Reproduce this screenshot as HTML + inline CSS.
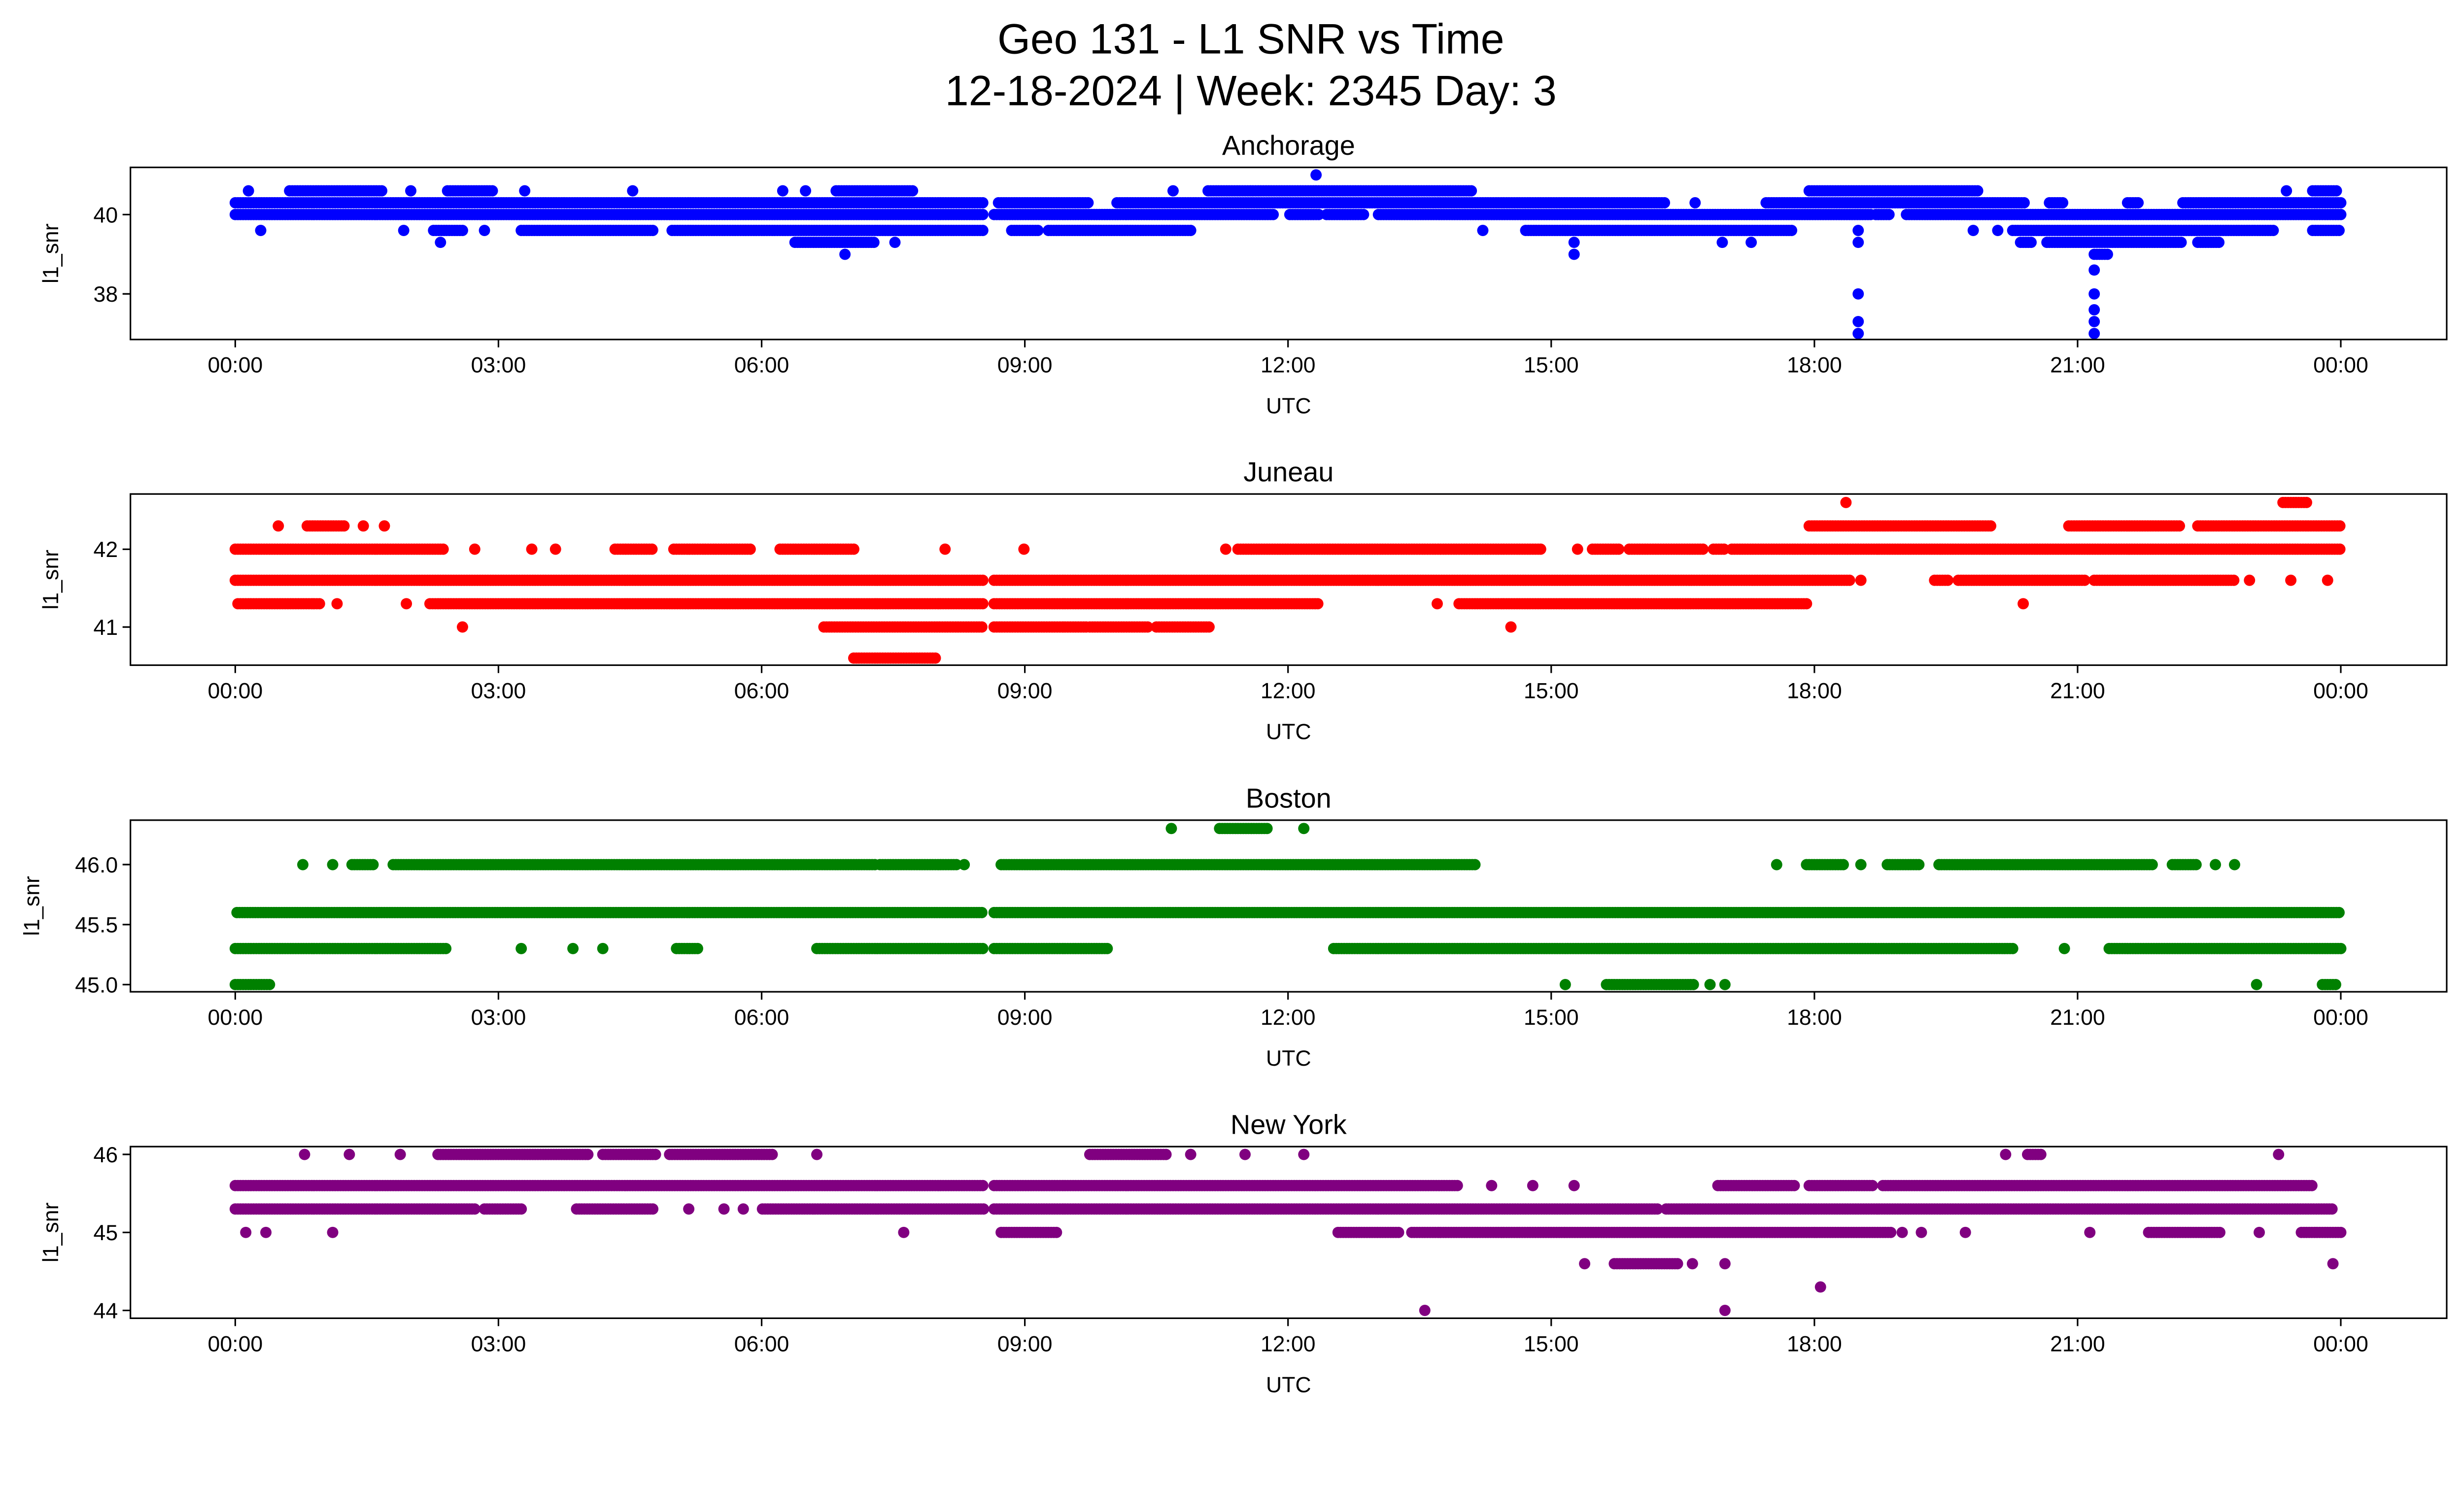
<!DOCTYPE html>
<html><head><meta charset="utf-8"><style>
html,body{margin:0;padding:0;background:#fff;overflow:hidden;width:100%;height:100%;}
svg{display:block;width:100vw;height:57.455vw;font-family:"Liberation Sans","DejaVu Sans",sans-serif;}
</style></head><body>
<svg id="chart" viewBox="0 0 1568 900.9" preserveAspectRatio="xMidYMin meet" xmlns="http://www.w3.org/2000/svg">
<rect width="1568" height="901" fill="#fff"/>
<text x="796" y="34" font-size="27" text-anchor="middle">Geo 131 - L1 SNR vs Time</text>
<text x="796" y="67" font-size="27" text-anchor="middle">12-18-2024 | Week: 2345 Day: 3</text>
<g id="plots"></g>
</svg>
<script>
// segments: [startHour, endHour, snr]
const anchorageSegs = [
[0,8.53,40.3],[8.70,9.74,40.3],[10.05,16.31,40.3],[16.64,16.64,40.3],[17.45,20.40,40.3],[20.68,20.85,40.3],[21.57,21.69,40.3],[22.2,24,40.3],
[0,8.53,40.0],[8.65,11.85,40.0],[12.02,12.35,40.0],[12.44,12.86,40.0],[13.03,18.66,40.0],[18.70,18.87,40.0],[19.05,24,40.0],
[0.15,0.15,40.6],[0.62,1.67,40.6],[2.0,2.0,40.6],[2.42,2.93,40.6],[3.30,3.30,40.6],[4.53,4.53,40.6],[6.24,6.24,40.6],[6.50,6.50,40.6],[6.85,7.72,40.6],[10.69,10.69,40.6],[11.09,14.09,40.6],[17.94,19.88,40.6],[23.38,23.38,40.6],[23.68,23.96,40.6],
[12.32,12.32,41.0],
[0.29,0.29,39.6],[1.92,1.92,39.6],[2.26,2.59,39.6],[2.84,2.84,39.6],[3.26,4.78,39.6],[4.98,8.53,39.6],[8.85,9.16,39.6],[9.27,10.89,39.6],[14.22,14.22,39.6],[14.71,17.74,39.6],[18.5,18.5,39.6],[19.81,19.81,39.6],[20.09,20.09,39.6],[20.26,23.24,39.6],[23.68,24,39.6],
[2.34,2.34,39.3],[6.38,7.30,39.3],[7.52,7.52,39.3],[15.26,15.26,39.3],[16.95,16.95,39.3],[17.28,17.28,39.3],[18.5,18.5,39.3],[20.35,20.48,39.3],[20.65,22.2,39.3],[22.37,22.62,39.3],
[6.95,6.95,39.0],[15.26,15.26,39.0],[21.19,21.36,39.0],
[21.19,21.19,38.6],[18.5,18.5,38.0],[21.19,21.19,38.0],[21.19,21.19,37.6],
[18.5,18.5,37.3],[21.19,21.19,37.3],[18.5,18.5,37.0],[21.19,21.19,37.0]
];
const juneauSegs = [
[18.36,18.36,42.6],[23.34,23.63,42.6],
[0.49,0.49,42.3],[0.82,1.25,42.3],[1.46,1.46,42.3],[1.70,1.70,42.3],[17.94,20.01,42.3],[20.90,22.16,42.3],[22.37,24,42.3],
[0,2.37,42.0],[2.73,2.73,42.0],[3.38,3.38,42.0],[3.65,3.65,42.0],[4.33,4.75,42.0],[5.0,5.87,42.0],[6.21,7.05,42.0],[8.09,8.09,42.0],[8.99,8.99,42.0],[11.29,11.29,42.0],[11.43,14.88,42.0],[15.30,15.30,42.0],[15.47,15.77,42.0],[15.89,16.73,42.0],[16.85,16.98,42.0],[17.06,24,42.0],
[0,8.53,41.6],[8.65,18.41,41.6],[18.53,18.53,41.6],[19.37,19.54,41.6],[19.64,21.10,41.6],[21.19,22.79,41.6],[22.96,22.96,41.6],[23.43,23.43,41.6],[23.85,23.85,41.6],
[0.03,0.96,41.3],[1.16,1.16,41.3],[1.95,1.95,41.3],[2.22,8.53,41.3],[8.65,12.35,41.3],[13.70,13.70,41.3],[13.95,17.91,41.3],[20.38,20.38,41.3],
[2.59,2.59,41.0],[6.71,8.53,41.0],[8.65,9.71,41.0],[9.74,10.42,41.0],[10.5,11.12,41.0],[14.54,14.54,41.0],
[7.05,7.98,40.6]
];
const bostonSegs = [
[10.67,10.67,46.3],[11.22,11.76,46.3],[12.18,12.18,46.3],
[0.77,0.77,46.0],[1.11,1.11,46.0],[1.33,1.58,46.0],[1.80,7.30,46.0],[7.35,8.23,46.0],[8.31,8.31,46.0],[8.73,14.15,46.0],[17.57,17.57,46.0],[17.91,18.33,46.0],[18.53,18.53,46.0],[18.83,19.20,46.0],[19.42,21.86,46.0],[22.08,22.37,46.0],[22.57,22.57,46.0],[22.79,22.79,46.0],
[0.02,8.53,45.6],[8.65,24,45.6],
[0,2.42,45.3],[3.26,3.26,45.3],[3.85,3.85,45.3],[4.19,4.19,45.3],[5.03,5.28,45.3],[6.63,8.53,45.3],[8.65,9.95,45.3],[12.52,20.26,45.3],[20.85,20.85,45.3],[21.36,24,45.3],
[0,0.40,45.0],[15.16,15.16,45.0],[15.63,16.64,45.0],[16.81,16.81,45.0],[16.98,16.98,45.0],[23.04,23.04,45.0],[23.79,23.96,45.0]
];
const newYorkSegs = [
[0.79,0.79,46.0],[1.30,1.30,46.0],[1.88,1.88,46.0],[2.31,4.02,46.0],[4.19,4.81,46.0],[4.95,6.13,46.0],[6.63,6.63,46.0],[9.74,10.62,46.0],[10.89,10.89,46.0],[11.51,11.51,46.0],[12.18,12.18,46.0],[20.18,20.18,46.0],[20.43,20.60,46.0],[23.29,23.29,46.0],
[0,8.53,45.6],[8.65,13.95,45.6],[14.32,14.32,45.6],[14.79,14.79,45.6],[15.26,15.26,45.6],[16.90,17.79,45.6],[17.94,18.66,45.6],[18.78,23.68,45.6],
[0,2.73,45.3],[2.84,3.26,45.3],[3.89,4.78,45.3],[5.17,5.17,45.3],[5.57,5.57,45.3],[5.79,5.79,45.3],[6.01,8.53,45.3],[8.65,16.22,45.3],[16.31,23.91,45.3],
[0.12,0.12,45.0],[0.35,0.35,45.0],[1.11,1.11,45.0],[7.62,7.62,45.0],[8.73,9.37,45.0],[12.57,13.28,45.0],[13.41,18.87,45.0],[19.0,19.0,45.0],[19.22,19.22,45.0],[19.72,19.72,45.0],[21.14,21.14,45.0],[21.81,22.62,45.0],[23.07,23.07,45.0],[23.55,24,45.0],
[15.38,15.38,44.6],[15.72,16.44,44.6],[16.61,16.61,44.6],[16.98,16.98,44.6],[23.91,23.91,44.6],
[18.07,18.07,44.3],[13.56,13.56,44.0],[16.98,16.98,44.0]
];
const xTickHours = [0,3,6,9,12,15,18,21,24];
const xTickLabels = ["00:00","03:00","06:00","09:00","12:00","15:00","18:00","21:00","00:00"];
const anchorageYTicks = [38,40];
const juneauYTicks = [41,42];
const bostonYTicks = [45.0,45.5,46.0];
const newYorkYTicks = [44,45,46];

const NS="http://www.w3.org/2000/svg";
const L=83,R=1557,X0=149.7,X1=1489.6;
function xs(h){return X0+(X1-X0)*h/24;}
const panels=[
 {name:"Anchorage",key:"anchorage",segs:anchorageSegs,ticks:anchorageYTicks,fmt:v=>String(v),color:"#0000ff",top:106.5,bot:216,dom:[36.85,41.19]},
 {name:"Juneau",key:"juneau",segs:juneauSegs,ticks:juneauYTicks,fmt:v=>String(v),color:"#ff0000",top:314.3,bot:423.2,dom:[40.51,42.71]},
 {name:"Boston",key:"boston",segs:bostonSegs,ticks:bostonYTicks,fmt:v=>v.toFixed(1),color:"#008000",top:521.8,bot:631,dom:[44.94,46.37]},
 {name:"New York",key:"new-york",segs:newYorkSegs,ticks:newYorkYTicks,fmt:v=>String(v),color:"#800080",top:729.5,bot:838.7,dom:[43.90,46.10]}
];
const root=document.getElementById("plots");
function mk(tag,attrs,parent){const e=document.createElementNS(NS,tag);for(const k in attrs)e.setAttribute(k,attrs[k]);parent.appendChild(e);return e;}
panels.forEach(p=>{
 const g=mk("g",{},root);
 
 
 const ys=v=>p.bot-(v-p.dom[0])/(p.dom[1]-p.dom[0])*(p.bot-p.top);
 const t=mk("text",{x:(L+R)/2,y:p.top-8,"font-size":"17.5","text-anchor":"middle"},g);
 t.textContent=p.name;
 
 
 const dots=mk("g",{fill:p.color},g);
 
 
 p.segs.forEach(s=>{
  const y=ys(s[2]);
  for(let h=s[0];h<=s[1]+1e-9;h+=0.03){
   mk("ellipse",{cx:xs(h).toFixed(1),cy:y.toFixed(1),rx:3.6,ry:3.6},dots);
  }
 });
 const box=mk("rect",{x:L,y:p.top,width:R-L,height:p.bot-p.top,fill:"none",stroke:"#000","stroke-width":"1"},g);
 
 
 xTickHours.forEach((h,i)=>{
  const x=xs(h);
  mk("line",{x1:x,x2:x,y1:p.bot,y2:p.bot+5,stroke:"#000","stroke-width":"1"},g);
  const tl=mk("text",{x:x,y:p.bot+21,"font-size":"14","text-anchor":"middle"},g);
  tl.textContent=xTickLabels[i];
  
  
 });
 p.ticks.forEach(v=>{
  const y=ys(v);
  mk("line",{x1:L-5,x2:L,y1:y,y2:y,stroke:"#000","stroke-width":"1"},g);
  const tl=mk("text",{x:L-8,y:y+5,"font-size":"14","text-anchor":"end"},g);
  tl.textContent=p.fmt(v);
  
  
 });
 const xl=mk("text",{x:(L+R)/2,y:p.bot+47,"font-size":"14","text-anchor":"middle"},g);
 xl.textContent="UTC";
 
 
 const yc=(p.top+p.bot)/2;
 const ylab=p.key==="boston"?25:37;
 const yl=mk("text",{x:ylab,y:yc,"font-size":"14","text-anchor":"middle",transform:"rotate(-90 "+ylab+" "+yc+")"},g);
 yl.textContent="l1_snr";
 
 
});
</script>
</body></html>
